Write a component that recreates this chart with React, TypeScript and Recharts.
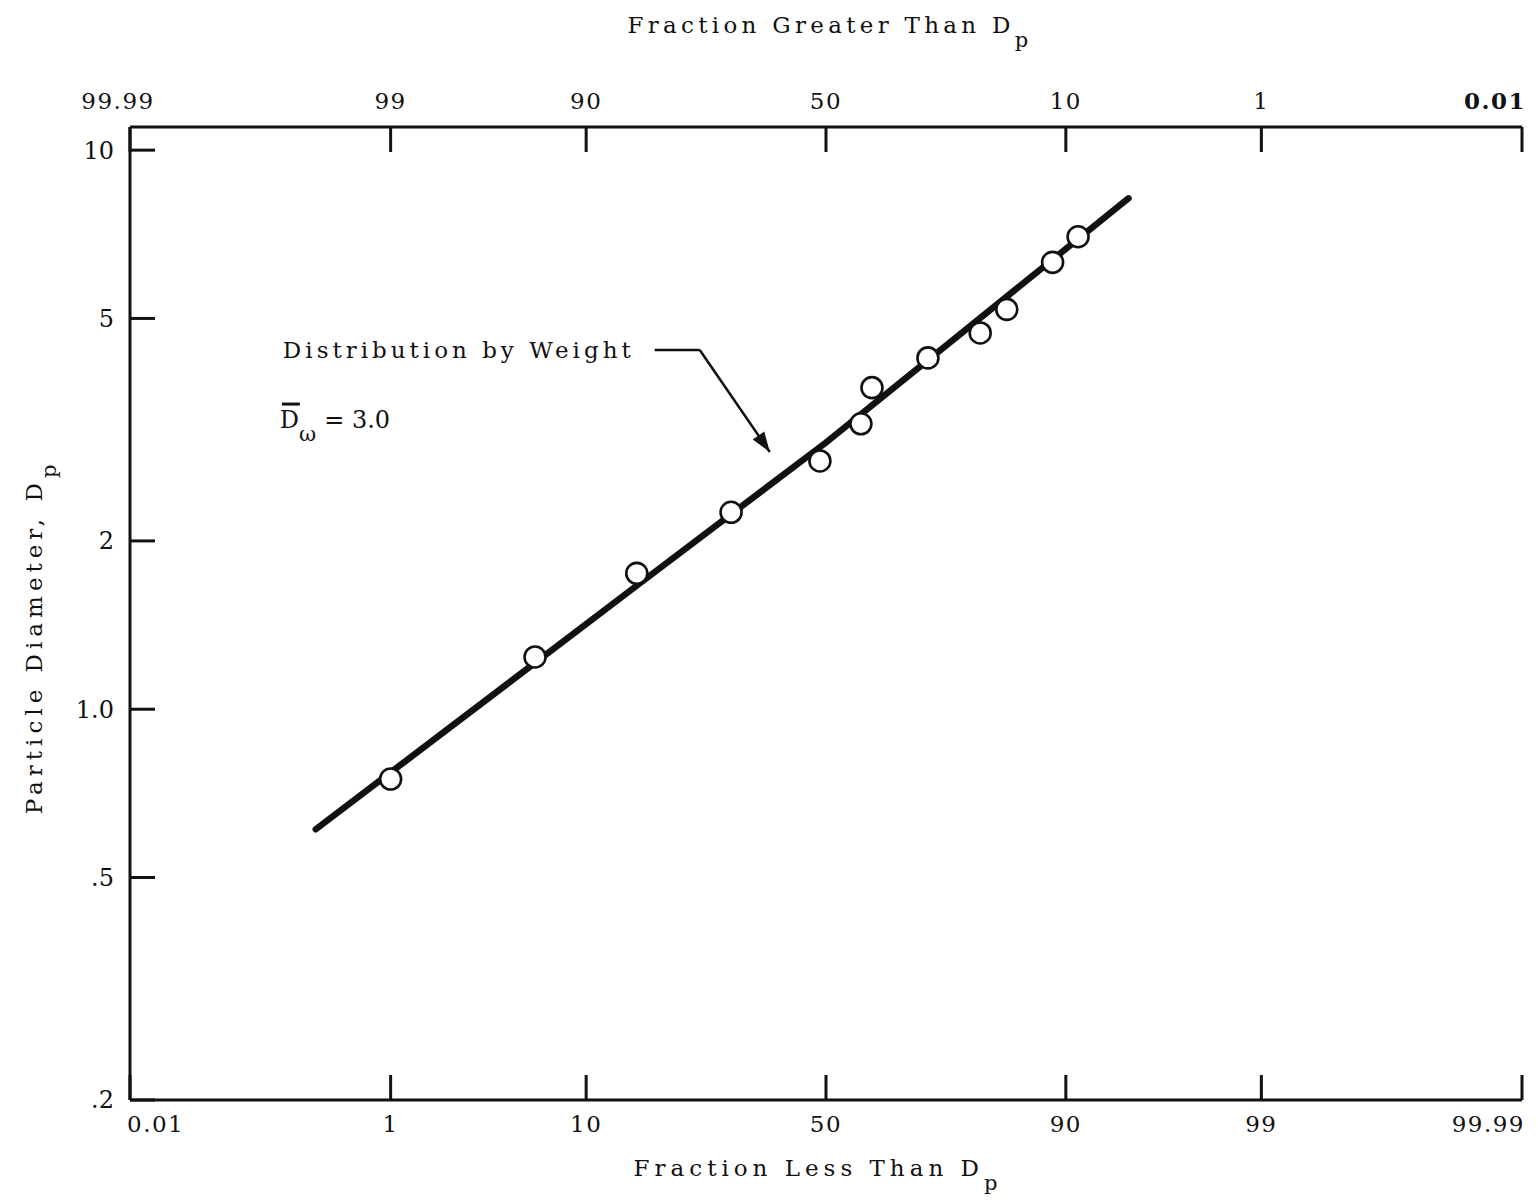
import React from 'react';
import { ComposedChart, Line, Scatter, XAxis, YAxis, ReferenceLine, ReferenceDot, Label } from 'recharts';

// inverse normal CDF (Acklam)
function probit(p: number): number {
  const a = [-3.969683028665376e1, 2.209460984245205e2, -2.759285104469687e2, 1.38357751867269e2, -3.066479806614716e1, 2.506628277459239];
  const b = [-5.447609879822406e1, 1.615858368580409e2, -1.556989798598866e2, 6.680131188771972e1, -1.328068155288572e1];
  const c = [-7.784894002430293e-3, -3.223964580411365e-1, -2.400758277161838, -2.549732539343734, 4.374664141464968, 2.938163982698783];
  const d = [7.784695709041462e-3, 3.224671290700398e-1, 2.445134137142996, 3.754408661907416];
  const pl = 0.02425;
  if (p < pl) {
    const q = Math.sqrt(-2 * Math.log(p));
    return (((((c[0] * q + c[1]) * q + c[2]) * q + c[3]) * q + c[4]) * q + c[5]) / ((((d[0] * q + d[1]) * q + d[2]) * q + d[3]) * q + 1);
  }
  if (p <= 1 - pl) {
    const q = p - 0.5;
    const r = q * q;
    return ((((((a[0] * r + a[1]) * r + a[2]) * r + a[3]) * r + a[4]) * r + a[5]) * q) / (((((b[0] * r + b[1]) * r + b[2]) * r + b[3]) * r + b[4]) * r + 1);
  }
  const q = Math.sqrt(-2 * Math.log(1 - p));
  return -(((((c[0] * q + c[1]) * q + c[2]) * q + c[3]) * q + c[4]) * q + c[5]) / ((((d[0] * q + d[1]) * q + d[2]) * q + d[3]) * q + 1);
}
const pz = (pct: number) => probit(pct / 100);

// ---- data ----
const pointPercentLess = [1.0, 6.0, 15.6, 30.6, 48.7, 57.4, 59.7, 70.7, 79.5, 83.3, 88.7, 91.1];
const pointDiameter = [0.75, 1.24, 1.75, 2.25, 2.78, 3.24, 3.76, 4.25, 4.71, 5.19, 6.3, 7.0];
const linePercentLess = [0.32, 16, 50, 94.7];
const lineDiameter = [0.61, 1.68, 3.0, 8.2];

const xTickPercentLess = [0.01, 1, 10, 50, 90, 99, 99.99];
const xTickLabelsBottom = ['0.01', '1', '10', '50', '90', '99', '99.99'];
const xTickLabelsTop = ['99.99', '99', '90', '50', '10', '1', '0.01'];
const yTicks = [0.2, 0.5, 1, 2, 5, 10];
const yTickLabels = ['.2', '.5', '1.0', '2', '5', '10'];

// annotation anchors (percent less, diameter)
const leaderPercent = [18.0, 25.0, 38.2];
const leaderDiameter = [4.39, 4.39, 2.885];
const meanLabelPercent = 0.176;
const meanLabelDiameter = 3.29;

const pointData = pointPercentLess.map((p, i) => ({ z: pz(p), d: pointDiameter[i] }));
const lineData = linePercentLess.map((p, i) => ({ z: pz(p), d: lineDiameter[i] }));
const xTickZ = xTickPercentLess.map(pz);
const xDomain = [xTickZ[0], xTickZ[xTickZ.length - 1]];

const FONT = '"DejaVu Serif", serif';
const INK = '#111';

const nearestIdx = (v: number) => {
  let b = 0;
  xTickZ.forEach((z, i) => {
    if (Math.abs(z - v) < Math.abs(xTickZ[b] - v)) b = i;
  });
  return b;
};

const BottomTick = (props: any) => {
  const { x, y, payload } = props;
  const i = nearestIdx(payload.value);
  const last = xTickZ.length - 1;
  const anchor = i === 0 ? 'start' : i === last ? 'end' : 'middle';
  const tx = i === 0 ? x - 3 : i === last ? x + 3 : x;
  return (
    <g>
      <line x1={x} y1={y} x2={x} y2={y - 25} stroke={INK} strokeWidth={3} />
      <text x={tx} y={y + 32} textAnchor={anchor} fontFamily={FONT} fontSize={23} letterSpacing={1.5} fill={INK}>
        {xTickLabelsBottom[i]}
      </text>
    </g>
  );
};

const TopTick = (props: any) => {
  const { x, y, payload } = props;
  const i = nearestIdx(payload.value);
  const last = xTickZ.length - 1;
  const anchor = i === last ? 'end' : 'middle';
  const tx = i === 0 ? x - 12 : i === last ? x + 4 : x;
  return (
    <g>
      <line x1={x} y1={y} x2={x} y2={y + 25} stroke={INK} strokeWidth={3} />
      <text x={tx} y={y - 18} textAnchor={anchor} fontFamily={FONT} fontSize={23} letterSpacing={1.5} fill={INK}
        fontWeight={i === last ? 'bold' : 'normal'}>
        {xTickLabelsTop[i]}
      </text>
    </g>
  );
};

const LeftTick = (props: any) => {
  const { x, y, payload } = props;
  const i = yTicks.indexOf(payload.value);
  return (
    <g>
      <line x1={x} y1={y} x2={x + 25} y2={y} stroke={INK} strokeWidth={3} />
      <text x={x - 16} y={y} dy="0.35em" textAnchor="end" fontFamily={FONT} fontSize={24} fill={INK}>
        {i >= 0 ? yTickLabels[i] : ''}
      </text>
    </g>
  );
};

const Circle = (props: any) => (
  <circle cx={props.cx} cy={props.cy} r={10.5} fill="#fff" stroke={INK} strokeWidth={2.6} />
);

const ArrowHead = (props: any) => {
  const { cx, cy } = props;
  const dx = 70, dy = 102;
  const L = Math.sqrt(dx * dx + dy * dy);
  const ux = dx / L, uy = dy / L;
  const bx = cx - ux * 20, by = cy - uy * 20;
  const px = -uy * 7, py = ux * 7;
  return <polygon points={`${cx},${cy} ${bx + px},${by + py} ${bx - px},${by - py}`} fill={INK} />;
};

const DistLabel = (props: any) => (
  <text x={props.cx - 20} y={props.cy} dy="0.35em" textAnchor="end" fontFamily={FONT} fontSize={23} letterSpacing={4} fill={INK}>
    Distribution by Weight
  </text>
);

const MeanLabel = (props: any) => {
  const { cx, cy } = props;
  return (
    <g>
      <line x1={cx + 2} y1={cy - 16} x2={cx + 20} y2={cy - 16} stroke={INK} strokeWidth={3} />
      <text x={cx} y={cy} dy="0.35em" fontFamily={FONT} fontSize={24} fill={INK}>
        D
        <tspan dy={13} fontSize={21}>ω</tspan>
        <tspan dy={-13} dx={8}>= 3.0</tspan>
      </text>
    </g>
  );
};

export default function App() {
  return (
    <div style={{ width: 1522, height: 1187 }}>
      <ComposedChart width={1522} height={1187} margin={{ top: 79, right: 8, bottom: 55, left: 62 }}>
        <XAxis
          xAxisId="bottom"
          type="number"
          dataKey="z"
          domain={xDomain}
          allowDataOverflow
          ticks={xTickZ}
          interval={0}
          height={40}
          tickSize={0}
          tickMargin={0}
          tickLine={false}
          axisLine={{ stroke: INK, strokeWidth: 3 }}
          tick={<BottomTick />}
        >
          <Label
            content={(p: any) => {
              const vb = p.viewBox;
              return (
                <text x={vb.x + vb.width / 2 - 8} y={1168} textAnchor="middle" fontFamily={FONT} fontSize={23} letterSpacing={5} fill={INK}>
                  Fraction Less Than D<tspan dy={14} fontSize={21}>p</tspan>
                </text>
              );
            }}
          />
        </XAxis>
        <XAxis
          xAxisId="top"
          orientation="top"
          type="number"
          dataKey="z"
          domain={xDomain}
          allowDataOverflow
          ticks={xTickZ}
          interval={0}
          height={40}
          tickSize={0}
          tickMargin={0}
          tickLine={false}
          axisLine={{ stroke: INK, strokeWidth: 3 }}
          tick={<TopTick />}
        >
          <Label
            content={(p: any) => {
              const vb = p.viewBox;
              return (
                <text x={vb.x + vb.width / 2 + 4} y={25} textAnchor="middle" fontFamily={FONT} fontSize={23} letterSpacing={4.3} fill={INK}>
                  Fraction Greater Than D<tspan dy={14} fontSize={21}>p</tspan>
                </text>
              );
            }}
          />
        </XAxis>
        <YAxis
          type="number"
          dataKey="d"
          scale="log"
          domain={[0.2, 11]}
          allowDataOverflow
          ticks={yTicks}
          interval={0}
          width={60}
          tickSize={0}
          tickMargin={0}
          tickLine={false}
          axisLine={{ stroke: INK, strokeWidth: 3 }}
          tick={<LeftTick />}
        >
          <Label
            content={() => (
              <text x={34} y={629} textAnchor="middle" transform="rotate(-90 34 629)" fontFamily={FONT} fontSize={23} letterSpacing={5} fill={INK}>
                Particle Diameter, D<tspan dy={14} fontSize={21}>p</tspan>
              </text>
            )}
          />
        </YAxis>
        <Line
          xAxisId="bottom"
          data={lineData}
          dataKey="d"
          type="linear"
          stroke={INK}
          strokeWidth={6.5}
          strokeLinecap="round"
          dot={false}
          activeDot={false}
          isAnimationActive={false}
        />
        <Scatter xAxisId="bottom" data={pointData} dataKey="d" shape={<Circle />} isAnimationActive={false} />
        <ReferenceLine
          xAxisId="bottom"
          segment={[{ x: pz(leaderPercent[0]), y: leaderDiameter[0] }, { x: pz(leaderPercent[1]), y: leaderDiameter[1] }]}
          stroke={INK}
          strokeWidth={2.5}
        />
        <ReferenceLine
          xAxisId="bottom"
          segment={[{ x: pz(leaderPercent[1]), y: leaderDiameter[1] }, { x: pz(leaderPercent[2]), y: leaderDiameter[2] }]}
          stroke={INK}
          strokeWidth={2.5}
        />
        <ReferenceDot xAxisId="bottom" x={pz(leaderPercent[2])} y={leaderDiameter[2]} shape={<ArrowHead />} />
        <ReferenceDot xAxisId="bottom" x={pz(leaderPercent[0])} y={leaderDiameter[0]} shape={<DistLabel />} />
        <ReferenceDot xAxisId="bottom" x={pz(meanLabelPercent)} y={meanLabelDiameter} shape={<MeanLabel />} />
      </ComposedChart>
    </div>
  );
}
